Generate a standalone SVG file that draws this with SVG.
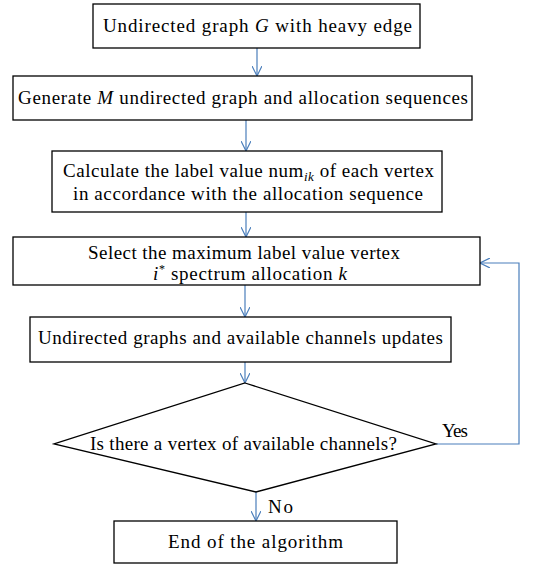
<svg xmlns="http://www.w3.org/2000/svg" width="545" height="565" viewBox="0 0 545 565">
<style>
.box{fill:#fff;stroke:#000;stroke-width:1.3}
.t{font-family:"Liberation Serif","Times New Roman",serif;font-size:19px;fill:#000;text-anchor:middle}
.c{fill:none;stroke:#4a7ebb;stroke-width:1.2}
</style>
<defs>
<marker id="a" viewBox="0 0 10 10" refX="10" refY="5" markerWidth="10" markerHeight="10" markerUnits="userSpaceOnUse" orient="auto">
<path d="M0,0 L10,5 L0,10" fill="none" stroke="#4a7ebb" stroke-width="1.2"/>
</marker>
</defs>
<rect width="545" height="565" fill="#fff"/>
<g id="connectors">
<line class="c" x1="257" y1="48" x2="257" y2="76" marker-end="url(#a)"/>
<line class="c" x1="246" y1="120" x2="246" y2="151" marker-end="url(#a)"/>
<line class="c" x1="246" y1="212" x2="246" y2="237" marker-end="url(#a)"/>
<line class="c" x1="245" y1="285" x2="245" y2="317" marker-end="url(#a)"/>
<line class="c" x1="245" y1="362" x2="245" y2="383" marker-end="url(#a)"/>
<polyline class="c" points="436,444 519,444 519,263 480,263" marker-end="url(#a)"/>
<line class="c" x1="256" y1="492" x2="256" y2="521" marker-end="url(#a)"/>
<text class="t" x="455" y="437" textLength="26">Yes</text>
<text class="t" x="280.5" y="513" textLength="25">No</text>
</g>
<g id="n1">
<rect class="box" x="93" y="4" width="327" height="44"/>
<text class="t" x="257.5" y="32" textLength="309">Undirected graph <tspan font-style="italic">G</tspan> with heavy edge</text>
</g>
<g id="n2">
<rect class="box" x="13" y="76" width="459" height="44"/>
<text class="t" x="243" y="104" textLength="450">Generate <tspan font-style="italic">M</tspan> undirected graph and allocation sequences</text>
</g>
<g id="n3">
<rect class="box" x="52" y="151" width="390" height="61"/>
<text class="t" x="248.5" y="177" textLength="371">Calculate the label value num<tspan font-style="italic" font-size="13" dy="4">ik</tspan><tspan dy="-4"> of each vertex</tspan></text>
<text class="t" x="248" y="200" textLength="350">in accordance with the allocation sequence</text>
</g>
<g id="n4">
<rect class="box" x="13" y="237" width="467" height="48"/>
<text class="t" x="244" y="259" textLength="312">Select the maximum label value vertex</text>
<text class="t" x="250" y="280" textLength="194"><tspan font-style="italic">i</tspan><tspan font-size="12" dy="-7">*</tspan><tspan dy="7"> spectrum allocation </tspan><tspan font-style="italic">k</tspan></text>
</g>
<g id="n5">
<rect class="box" x="30" y="317" width="421" height="45"/>
<text class="t" x="240.5" y="344" textLength="405">Undirected graphs and available channels updates</text>
</g>
<g id="n6">
<path class="box" d="M245,383 L436,444 L256,492 L54,444 Z"/>
<text class="t" x="243.5" y="450" textLength="307">Is there a vertex of available channels?</text>
</g>
<g id="n7">
<rect class="box" x="114" y="521" width="283" height="42"/>
<text class="t" x="255.5" y="548" textLength="175">End of the algorithm</text>
</g>
</svg>
